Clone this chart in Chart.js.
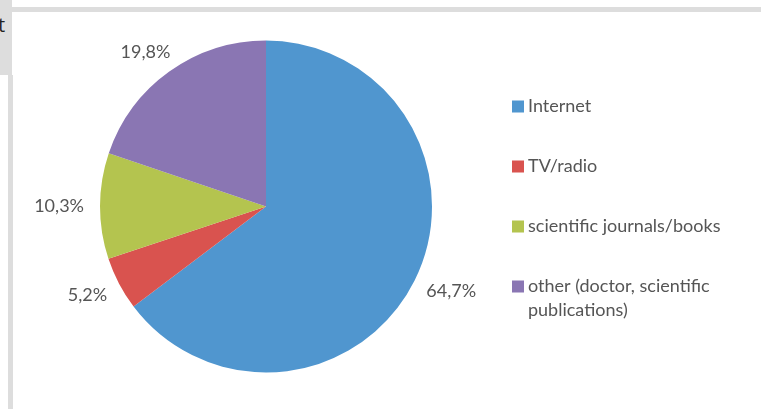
<!DOCTYPE html>
<html>
<head>
<meta charset="utf-8">
<script src="https://cdn.jsdelivr.net/npm/chart.js@4/dist/chart.umd.min.js"></script>
<style>
  body { margin: 0; background: #fff; }
  #wrap { position: relative; width: 761px; height: 409px; overflow: hidden; }
  .frame { position: absolute; background: #dddddd; }
  #cut { position: absolute; left: -2px; top: 11px; font: 20px "Open Sans", sans-serif; color: #222; }
  canvas { position: absolute; left: 0; top: 0; }
</style>
</head>
<body>
<div id="wrap">
  <div class="frame" style="left:0;top:0;width:12px;height:75px"></div>
  <div class="frame" style="left:8px;top:75px;width:5px;height:334px"></div>
  <div class="frame" style="left:12px;top:7px;width:749px;height:5px"></div>
  <div id="cut">t</div>
  <canvas id="pie" width="761" height="409"></canvas>
</div>
<script>
// sources of information, share in %
const sources = ['Internet', 'TV/radio', 'scientific journals/books', ['other (doctor, scientific', 'publications)']];
const shares = [64.7, 5.2, 10.3, 19.8];
const colors = ['#5096cf', '#d9534f', '#b4c44f', '#8a76b3'];

const textColor = '#555555';
const fontFamily = 'Lato, "Open Sans", sans-serif';

const fmt = v => v.toFixed(1).replace('.', ',') + '%';

// percentage labels just outside each slice
const outsideLabels = {
    id: 'outsideLabels',
    afterDatasetsDraw(chart) {
        const ctx = chart.ctx;
        const meta = chart.getDatasetMeta(0);
        ctx.save();
        ctx.font = '18px ' + fontFamily;
        ctx.fillStyle = textColor;
        ctx.textAlign = 'center';
        ctx.textBaseline = 'middle';
        meta.data.forEach((arc, i) => {
            const mid = (arc.startAngle + arc.endAngle) / 2;
            const dx = Math.cos(mid), dy = Math.sin(mid);
            const text = fmt(shares[i]);
            const w = ctx.measureText(text).width, h = 16;
            const d = arc.outerRadius + 16;
            const x = arc.x + dx * d + dx * w / 2;
            const y = arc.y + dy * d + dy * h / 2;
            ctx.fillText(text, x, y);
        });
        ctx.restore();
    }
};

// legend on the right, one entry every 60px
const sideLegend = {
    id: 'sideLegend',
    afterDraw(chart) {
        const ctx = chart.ctx;
        ctx.save();
        ctx.font = '18px ' + fontFamily;
        ctx.textBaseline = 'middle';
        sources.forEach((label, i) => {
            const y = 106.5 + i * 60;
            ctx.fillStyle = colors[i];
            ctx.fillRect(512, y - 6, 12, 12);
            ctx.fillStyle = textColor;
            const lines = Array.isArray(label) ? label : [label];
            lines.forEach((line, j) => ctx.fillText(line, 528, y + j * 24));
        });
        ctx.restore();
    }
};

new Chart(document.getElementById('pie'), {
    type: 'pie',
    data: {
        labels: sources,
        datasets: [{
            data: shares,
            backgroundColor: colors,
            borderWidth: 0
        }]
    },
    options: {
        responsive: false,
        animation: false,
        layout: { padding: { left: 100, right: 329, top: 40, bottom: 36 } },
        plugins: {
            legend: { display: false },
            tooltip: { enabled: false }
        }
    },
    plugins: [outsideLabels, sideLegend]
});
</script>
</body>
</html>
